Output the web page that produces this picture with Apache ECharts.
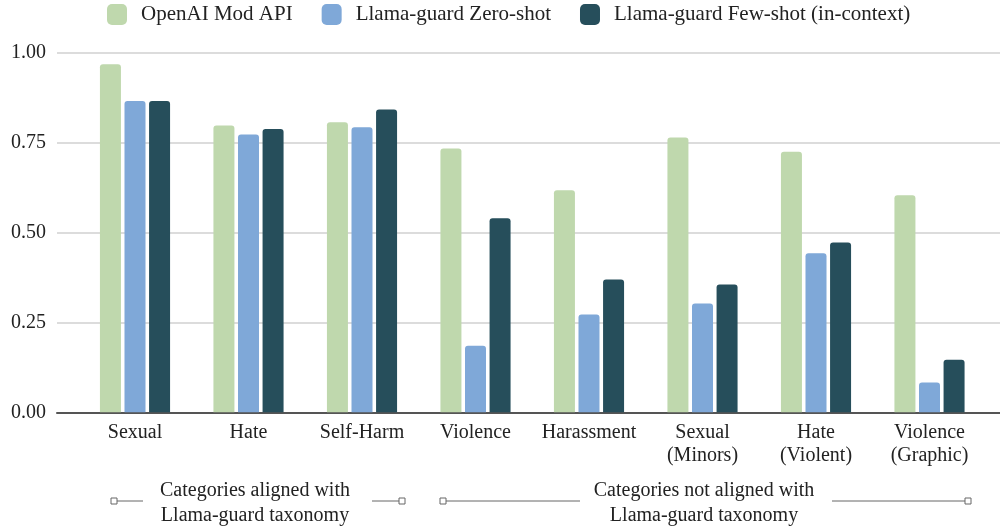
<!DOCTYPE html>
<html>
<head>
<meta charset="utf-8">
<script src="https://cdn.jsdelivr.net/npm/echarts@6/dist/echarts.min.js"></script>
<style>
    html, body { margin: 0; padding: 0; background: #fff; }
    #chart { width: 1000px; height: 529px; }
</style>
</head>
<body>
<div id="chart"></div>
<script>
// categories and scores
var categories = ['Sexual', 'Hate', 'Self-Harm', 'Violence', 'Harassment',
    'Sexual\n(Minors)', 'Hate\n(Violent)', 'Violence\n(Graphic)'];
var seriesNames = ['OpenAI Mod API', 'Llama-guard Zero-shot', 'Llama-guard Few-shot (in-context)'];
var openaiMod = [0.967, 0.797, 0.806, 0.733, 0.617, 0.763, 0.724, 0.603];
var zeroShot = [0.865, 0.772, 0.792, 0.185, 0.272, 0.302, 0.442, 0.083];
var fewShot = [0.865, 0.787, 0.841, 0.539, 0.369, 0.355, 0.472, 0.146];

var colors = ['#bfd8ad', '#7fa8d8', '#264e5b'];
var font = '"Liberation Serif", "DejaVu Serif", serif';
var textColor = '#222';

var chart = echarts.init(document.getElementById('chart'));

function barSeries(i, data) {
    return {
        name: seriesNames[i],
        type: 'bar',
        xAxisIndex: 0,
        yAxisIndex: 0,
        data: data,
        barWidth: 21,
        barGap: '17%',
        itemStyle: { color: colors[i], borderRadius: [3, 3, 0, 0] },
        z: 3
    };
}

// bracket annotations under the axis
function bracket(x1, x2, y) {
    return { type: 'line', shape: { x1: x1, y1: y, x2: x2, y2: y }, style: { stroke: '#666', lineWidth: 1 } };
}
function endBox(x, y) {
    return { type: 'rect', shape: { x: x - 3, y: y - 3, width: 6, height: 6 }, style: { fill: '#fff', stroke: '#666', lineWidth: 1 }, z: 10 };
}
function note(x, txt) {
    return {
        type: 'text',
        style: { x: x, y: 478, text: txt, fill: textColor, font: '20px ' + font, align: 'center', verticalAlign: 'top', lineHeight: 25 }
    };
}
var by = 501;
var graphics = [
    bracket(114, 143, by), bracket(372, 402, by),
    bracket(443, 580, by), bracket(832, 968, by),
    endBox(114, by), endBox(402, by), endBox(443, by), endBox(968, by),
    note(255, 'Categories aligned with\nLlama-guard taxonomy'),
    note(704, 'Categories not aligned with\nLlama-guard taxonomy')
];

var option = {
    animation: false,
    backgroundColor: '#fff',
    color: colors,
    textStyle: { fontFamily: font },
    legend: {
        top: -1,
        left: 102,
        itemWidth: 20,
        itemHeight: 21,
        itemGap: 29,
        icon: 'roundRect',
        data: seriesNames,
        textStyle: { fontFamily: font, fontSize: 21, color: textColor, padding: [0, 0, 0, 9] }
    },
    grid: [
        { left: 78.25, right: 13.75, top: 52.3, bottom: 116.7 },
        { left: 57, right: 0, top: 52.3, bottom: 116.7 }
    ],
    xAxis: [
        {
            type: 'category',
            gridIndex: 0,
            data: categories,
            axisLine: { show: false },
            axisTick: { show: false },
            axisLabel: { interval: 0, fontFamily: font, fontSize: 20, color: textColor, margin: 9, lineHeight: 23 }
        },
        {
            type: 'value',
            gridIndex: 1,
            min: 0,
            max: 1,
            axisLine: { show: true, onZero: false, lineStyle: { color: '#555', width: 2 } },
            axisTick: { show: false },
            axisLabel: { show: false },
            splitLine: { show: false }
        }
    ],
    yAxis: [
        {
            type: 'value',
            gridIndex: 0,
            min: 0,
            max: 1,
            interval: 0.25,
            axisLine: { show: false },
            axisTick: { show: false },
            axisLabel: { show: false },
            splitLine: { show: false }
        },
        {
            type: 'value',
            gridIndex: 1,
            min: 0,
            max: 1,
            interval: 0.25,
            axisLine: { show: false },
            axisTick: { show: false },
            axisLabel: {
                fontFamily: font, fontSize: 20, color: textColor, margin: 11,
                formatter: function (v) { return v.toFixed(2); }
            },
            splitLine: { lineStyle: { color: '#d0d0d0', width: 1.5 } }
        }
    ],
    series: [
        barSeries(0, openaiMod),
        barSeries(1, zeroShot),
        barSeries(2, fewShot)
    ],
    graphic: graphics
};

chart.setOption(option);
window.addEventListener('resize', function () {
    chart.resize();
});
</script>
</body>
</html>
